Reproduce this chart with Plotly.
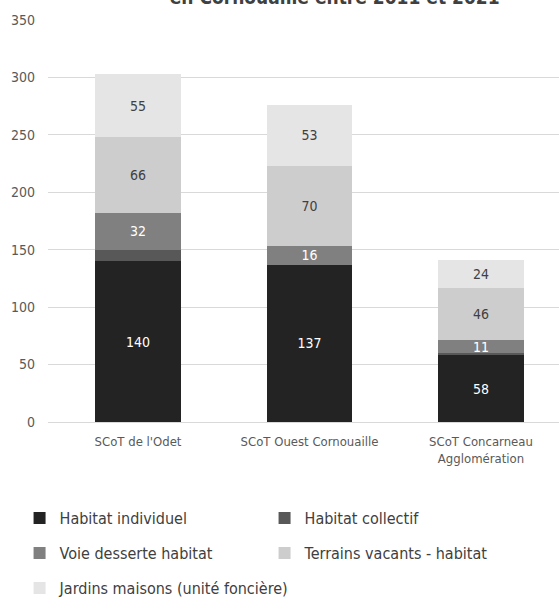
import plotly.graph_objects as go

# Territories (x categories)
territoires = ["SCoT de l'Odet", "SCoT Ouest Cornouaille", "SCoT Concarneau<br>Agglomération"]

# Surface consumed per land-use type (ha)
habitat_individuel = [140, 137, 58]
habitat_collectif = [10, 0, 2]
voie_desserte = [32, 16, 11]
terrains_vacants = [66, 70, 46]
jardins_maisons = [55, 53, 24]

FONT = "DejaVu Sans Condensed, Liberation Sans Narrow, sans-serif"

# name, values, fill, label colour, show labels, legend group
series = [
    ("Habitat individuel", habitat_individuel, "#232323", "white", True, "legend"),
    ("Habitat collectif", habitat_collectif, "#585858", "white", False, "legend"),
    ("Voie desserte habitat", voie_desserte, "#808080", "white", True, "legend2"),
    ("Terrains vacants - habitat", terrains_vacants, "#cdcdcd", "#404040", True, "legend2"),
    ("Jardins maisons (unité foncière)", jardins_maisons, "#e5e5e5", "#404040", True, "legend3"),
]

fig = go.Figure()
for name, vals, color, txtcolor, show, leg in series:
    fig.add_trace(go.Bar(
        name=name,
        x=list(range(len(territoires))),
        y=vals,
        legend=leg,
        marker=dict(color=color, line=dict(width=0)),
        text=[str(v) for v in vals] if show else None,
        texttemplate="%{text}" if show else None,
        textposition="inside",
        insidetextanchor="middle",
        constraintext="none",
        textangle=0,
        textfont=dict(color=txtcolor, size=14, family=FONT),
        hoverinfo="name+y",
    ))

fig.add_annotation(
    text="<b>Consommation d'espace pour l'habitat<br>en Cornouaille entre 2011 et 2021</b>",
    xref="paper", yref="paper", x=0.56, y=1.0, yshift=10, xanchor="center", yanchor="bottom",
    showarrow=False, font=dict(size=19, color="#404040", family=FONT),
)

legend_common = dict(
    orientation="h",
    xref="container", yref="container",
    xanchor="left", yanchor="middle",
    entrywidth=200, entrywidthmode="pixels",
    itemwidth=30,
    font=dict(size=16, color="#404040", family=FONT),
    traceorder="normal",
    bgcolor="rgba(0,0,0,0)",
)

fig.update_layout(
    width=559, height=612,
    barmode="stack",
    bargap=0.5,
    plot_bgcolor="white", paper_bgcolor="white",
    margin=dict(l=48, r=0, t=20, b=190),
    font=dict(family=FONT, color="#595959", size=14),
    showlegend=True,
    legend=dict(legend_common, x=0.035, y=1 - 518 / 612),
    legend2=dict(legend_common, x=0.035, y=1 - 553 / 612),
    legend3=dict(legend_common, x=0.035, y=1 - 588 / 612, entrywidth=400),
    xaxis=dict(
        tickmode="array",
        tickvals=list(range(len(territoires))),
        ticktext=territoires,
        range=[-0.525, 2.455],
        showgrid=False, zeroline=False,
        showline=False, ticks="",
        tickfont=dict(size=13, color="#595959"),
        ticklabelstandoff=10,
    ),
    yaxis=dict(
        range=[0, 350],
        dtick=50,
        showgrid=True, gridcolor="#d9d9d9", gridwidth=1,
        zeroline=True, zerolinecolor="#d9d9d9", zerolinewidth=1,
        showline=False, ticks="",
        tickfont=dict(size=14, color="#595959"),
        ticklabelstandoff=12,
    ),
)

fig.write_html("out.html")
